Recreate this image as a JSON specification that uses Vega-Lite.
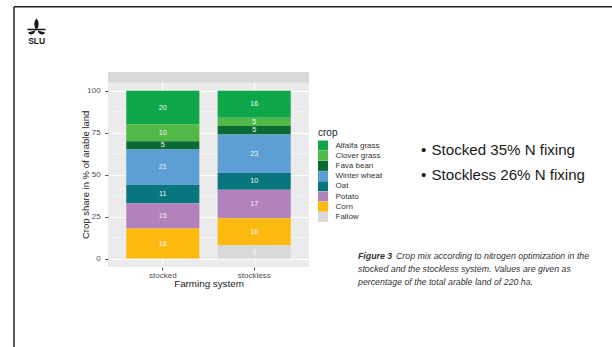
{
  "$schema": "https://vega.github.io/schema/vega-lite/v6.json",
  "width": 201,
  "height": 195,
  "autosize": {"type": "none"},
  "padding": {"left": 108, "top": 72, "right": 303, "bottom": 80},
  "background": "#FFFFFF",
  "config": {"font": "Liberation Sans", "view": {"fill": "#EBEBEB", "stroke": null}},
  "datasets": {
    "crops": [
      {"system": "stocked", "crop": "Alfalfa grass", "idx": 1, "share": 20},
      {"system": "stocked", "crop": "Clover grass", "idx": 2, "share": 10},
      {"system": "stocked", "crop": "Fava bean", "idx": 3, "share": 5},
      {"system": "stocked", "crop": "Winter wheat", "idx": 4, "share": 21},
      {"system": "stocked", "crop": "Oat", "idx": 5, "share": 11},
      {"system": "stocked", "crop": "Potato", "idx": 6, "share": 15},
      {"system": "stocked", "crop": "Corn", "idx": 7, "share": 18},
      {"system": "stockless", "crop": "Alfalfa grass", "idx": 1, "share": 16},
      {"system": "stockless", "crop": "Clover grass", "idx": 2, "share": 5},
      {"system": "stockless", "crop": "Fava bean", "idx": 3, "share": 5},
      {"system": "stockless", "crop": "Winter wheat", "idx": 4, "share": 23},
      {"system": "stockless", "crop": "Oat", "idx": 5, "share": 10},
      {"system": "stockless", "crop": "Potato", "idx": 6, "share": 17},
      {"system": "stockless", "crop": "Corn", "idx": 7, "share": 16},
      {"system": "stockless", "crop": "Fallow", "idx": 8, "share": 8}
    ],
    "minor": [{"v": 12.5}, {"v": 37.5}, {"v": 62.5}, {"v": 87.5}],
    "strip": [{"lo": 105, "hi": 111.2}],
    "frame": [
      {"x": 14, "y": 6.7, "x2": 14, "y2": 347},
      {"x": 14, "y": 6.7, "x2": 612, "y2": 6.7}
    ],
    "bullets": [
      {"x": 421, "y": 155, "t": "•"},
      {"x": 431.5, "y": 155, "t": "Stocked 35% N fixing"},
      {"x": 421, "y": 180, "t": "•"},
      {"x": 431.5, "y": 180, "t": "Stockless 26% N fixing"}
    ],
    "capbold": [{"x": 358, "y": 259, "t": "Figure 3"}],
    "caption": [
      {"x": 396, "y": 259, "t": "Crop mix according to nitrogen optimization in the"},
      {"x": 358, "y": 272, "t": "stocked and the stockless system. Values are given as"},
      {"x": 358, "y": 285, "t": "percentage of the total arable land of 220 ha."}
    ],
    "logotext": [{"x": 36.7, "y": 43.8, "t": "SLU"}],
    "logo": [{"x": 36.5, "y": 27.5}]
  },
  "resolve": {"scale": {"x": "independent", "y": "independent"}},
  "layer": [
    {
      "layer": [
        {
          "data": {"name": "minor"},
          "mark": {"type": "rule", "color": "#FFFFFF", "strokeWidth": 0.5},
          "encoding": {
            "y": {"field": "v", "type": "quantitative", "title": "Crop share in % of arable land",
                  "scale": {"domain": [-5, 111.2], "nice": false, "zero": false}}
          }
        },
        {
          "data": {"name": "crops"},
          "transform": [
            {"stack": "share", "groupby": ["system"], "sort": [{"field": "idx", "order": "descending"}], "as": ["y0", "y1"]}
          ],
          "mark": {"type": "bar"},
          "encoding": {
            "x": {
              "field": "system", "type": "nominal",
              "scale": {"type": "band", "domain": ["stocked", "stockless"], "paddingInner": 0.2, "paddingOuter": 0.2},
              "axis": {
                "title": "Farming system", "labelAngle": 0, "grid": true, "gridColor": "#FFFFFF", "gridWidth": 1,
                "bandPosition": 0.5, "domain": false, "tickColor": "#333333", "tickSize": 3, "tickWidth": 0.8,
                "labelFontSize": 8, "labelColor": "#4D4D4D", "labelPadding": 1,
                "titleFontSize": 9.8, "titleColor": "#1A1A1A", "titleFontWeight": "normal",
                "titleY": 19.3, "titleBaseline": "alphabetic"
              }
            },
            "y": {
              "field": "y0", "type": "quantitative", "title": "Crop share in % of arable land",
              "scale": {"domain": [-5, 111.2], "nice": false, "zero": false},
              "axis": {
                "values": [0, 25, 50, 75, 100], "grid": true, "gridColor": "#FFFFFF", "gridWidth": 1,
                "domain": false, "tickColor": "#333333", "tickSize": 3.5, "tickWidth": 0.8,
                "labelFontSize": 8, "labelColor": "#4D4D4D", "labelPadding": 4.3,
                "titleFontSize": 9.5, "titleColor": "#1A1A1A", "titleFontWeight": "normal",
                "titleX": -19.7, "titleY": 102.4, "titleAngle": 270, "titleAlign": "center", "titleBaseline": "alphabetic"
              }
            },
            "y2": {"field": "y1"},
            "color": {
              "field": "crop", "type": "nominal",
              "scale": {
                "domain": ["Alfalfa grass", "Clover grass", "Fava bean", "Winter wheat", "Oat", "Potato", "Corn", "Fallow"],
                "range": ["#10A64A", "#52B848", "#0A6B34", "#5D9FD5", "#08757F", "#B381BC", "#FDBA0E", "#D9D9D9"]
              },
              "legend": {
                "orient": "none", "legendX": 210, "legendY": 55.5, "title": "crop",
                "titleFontSize": 10, "titleColor": "#1A1A1A", "titleFontWeight": "normal", "titlePadding": 3,
                "labelFontSize": 8, "labelColor": "#333333", "symbolType": "square", "symbolSize": 100,
                "symbolStrokeWidth": 0, "symbolOpacity": 1, "rowPadding": 0.2, "labelOffset": 7.5, "padding": 0
              }
            }
          }
        },
        {
          "data": {"name": "crops"},
          "transform": [
            {"stack": "share", "groupby": ["system"], "sort": [{"field": "idx", "order": "descending"}], "as": ["y0", "y1"]},
            {"calculate": "(datum.y0 + datum.y1) / 2", "as": "ymid"}
          ],
          "mark": {"type": "text", "fontSize": 7.2, "color": "#F5F5F5", "baseline": "middle", "align": "center"},
          "encoding": {
            "x": {"field": "system", "type": "nominal",
                  "scale": {"type": "band", "domain": ["stocked", "stockless"], "paddingInner": 0.2, "paddingOuter": 0.2}},
            "y": {"field": "ymid", "type": "quantitative", "title": "Crop share in % of arable land",
                  "scale": {"domain": [-5, 111.2], "nice": false, "zero": false}},
            "text": {"field": "share", "type": "quantitative"}
          }
        },
        {
          "data": {"name": "strip"},
          "mark": {"type": "rect", "color": "#D9D9D9"},
          "encoding": {
            "x": {"value": 0},
            "x2": {"value": "width"},
            "y": {"field": "lo", "type": "quantitative", "title": "Crop share in % of arable land",
                  "scale": {"domain": [-5, 111.2], "nice": false, "zero": false}},
            "y2": {"field": "hi"}
          }
        }
      ]
    },
    {
      "layer": [
        {
          "data": {"name": "frame"},
          "mark": {"type": "rule", "color": "#222222", "strokeWidth": 1.5},
          "encoding": {
            "x": {"field": "x", "type": "quantitative", "axis": null, "scale": {"domain": [108, 309], "nice": false, "zero": false}},
            "y": {"field": "y", "type": "quantitative", "axis": null, "scale": {"domain": [72, 267], "nice": false, "zero": false, "reverse": true}},
            "x2": {"field": "x2"},
            "y2": {"field": "y2"}
          }
        },
        {
          "data": {"name": "bullets"},
          "mark": {"type": "text", "fontSize": 15.1, "color": "#1A1A1A", "align": "left", "baseline": "alphabetic"},
          "encoding": {
            "x": {"field": "x", "type": "quantitative", "axis": null, "scale": {"domain": [108, 309], "nice": false, "zero": false}},
            "y": {"field": "y", "type": "quantitative", "axis": null, "scale": {"domain": [72, 267], "nice": false, "zero": false, "reverse": true}},
            "text": {"field": "t"}
          }
        },
        {
          "data": {"name": "capbold"},
          "mark": {"type": "text", "fontSize": 8.8, "fontStyle": "italic", "fontWeight": "bold", "color": "#333333", "align": "left", "baseline": "alphabetic"},
          "encoding": {
            "x": {"field": "x", "type": "quantitative", "axis": null, "scale": {"domain": [108, 309], "nice": false, "zero": false}},
            "y": {"field": "y", "type": "quantitative", "axis": null, "scale": {"domain": [72, 267], "nice": false, "zero": false, "reverse": true}},
            "text": {"field": "t"}
          }
        },
        {
          "data": {"name": "caption"},
          "mark": {"type": "text", "fontSize": 8.8, "fontStyle": "italic", "color": "#333333", "align": "left", "baseline": "alphabetic"},
          "encoding": {
            "x": {"field": "x", "type": "quantitative", "axis": null, "scale": {"domain": [108, 309], "nice": false, "zero": false}},
            "y": {"field": "y", "type": "quantitative", "axis": null, "scale": {"domain": [72, 267], "nice": false, "zero": false, "reverse": true}},
            "text": {"field": "t"}
          }
        },
        {
          "data": {"name": "logotext"},
          "mark": {"type": "text", "fontSize": 8.5, "fontWeight": "bold", "color": "#1A1A1A", "align": "center", "baseline": "alphabetic"},
          "encoding": {
            "x": {"field": "x", "type": "quantitative", "axis": null, "scale": {"domain": [108, 309], "nice": false, "zero": false}},
            "y": {"field": "y", "type": "quantitative", "axis": null, "scale": {"domain": [72, 267], "nice": false, "zero": false, "reverse": true}},
            "text": {"field": "t"}
          }
        },
        {
          "data": {"name": "logo"},
          "mark": {
            "type": "point", "filled": true, "color": "#1A1A1A", "opacity": 1, "size": 330,
            "shape": "M0,-1 C0.32,-0.65 0.3,-0.15 0.07,0.15 L-0.07,0.15 C-0.3,-0.15 -0.32,-0.65 0,-1 Z M-1,0.15 L1,0.15 L1,0.3 L-1,0.3 Z M-0.12,0.3 C-0.25,0.85 -0.75,0.9 -0.95,0.55 C-0.7,0.45 -0.4,0.42 -0.12,0.3 Z M0.12,0.3 C0.25,0.85 0.75,0.9 0.95,0.55 C0.7,0.45 0.4,0.42 0.12,0.3 Z"
          },
          "encoding": {
            "x": {"field": "x", "type": "quantitative", "axis": null, "scale": {"domain": [108, 309], "nice": false, "zero": false}},
            "y": {"field": "y", "type": "quantitative", "axis": null, "scale": {"domain": [72, 267], "nice": false, "zero": false, "reverse": true}}
          }
        }
      ]
    }
  ]
}
